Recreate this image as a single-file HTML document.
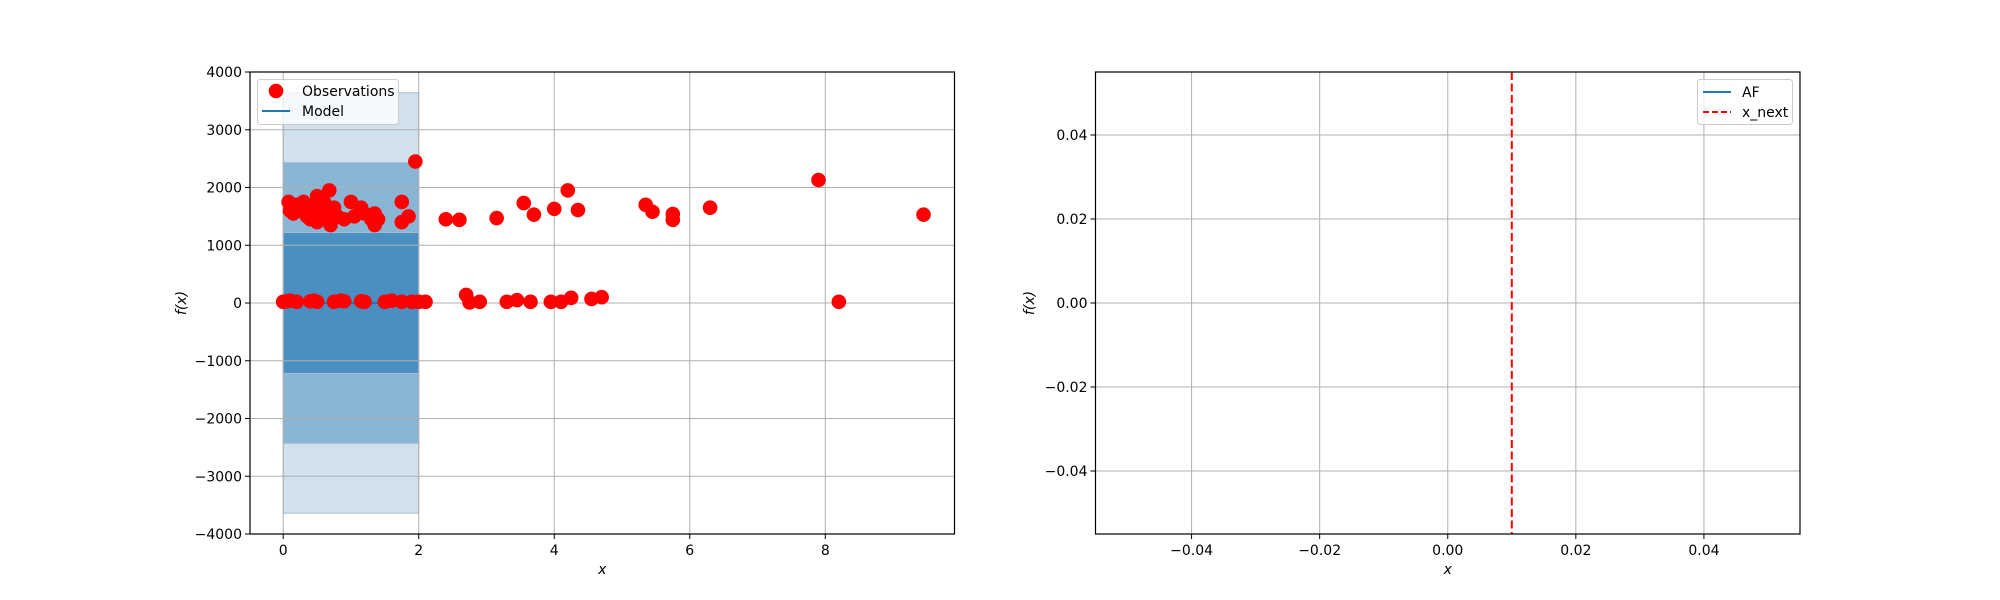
<!DOCTYPE html>
<html><head><meta charset="utf-8"><style>
html,body{margin:0;padding:0;background:#fff;}
svg{display:block;font-family:"DejaVu Sans","Liberation Sans",sans-serif;}
</style></head><body>
<svg id="fig" width="2000" height="600" xmlns="http://www.w3.org/2000/svg"></svg>
<script>
const obsX = [0.08,0.1,0.15,0.2,0.25,0.3,0.35,0.4,0.45,0.5,0.5,0.55,0.6,0.65,0.68,0.7,0.75,0.8,0.9,1.0,1.05,1.15,1.2,1.3,1.35,1.35,1.4,1.75,1.75,1.85,1.95,2.4,2.6,3.15,3.55,3.7,4.0,4.2,4.35,5.35,5.45,5.75,5.75,6.3,7.9,9.45,
  0.0,0.05,0.1,0.2,0.4,0.45,0.5,0.75,0.85,0.9,1.15,1.2,1.5,1.6,1.75,1.9,2.0,2.1,2.7,2.75,2.9,3.3,3.45,3.65,3.95,4.1,4.25,4.55,4.7,8.2];
const obsY = [1750,1600,1550,1700,1650,1750,1500,1450,1700,1850,1400,1600,1750,1500,1950,1350,1650,1500,1450,1750,1500,1650,1550,1450,1550,1350,1450,1750,1400,1500,2450,1450,1440,1470,1730,1530,1630,1950,1610,1700,1580,1540,1440,1650,2130,1530,
  20,30,40,20,30,40,20,20,40,30,30,20,20,40,20,20,20,20,140,10,20,20,50,20,20,20,90,70,100,20];
const bandX = [0, 2];
const bandHalf = [3640, 2430, 1220];
const bandColors = ['#d0e1ed','#8ab6d6','#4a8fc1'];
const modelMean = [0, 0];
const leftXTicks = [0,2,4,6,8];
const leftYTicks = [-4000,-3000,-2000,-1000,0,1000,2000,3000,4000];
const rightXTicks = [-0.04,-0.02,0.00,0.02,0.04];
const rightYTicks = [-0.04,-0.02,0.00,0.02,0.04];
const xNext = [0.01];

const NS='http://www.w3.org/2000/svg';
const svg=document.getElementById('fig');
function mk(tag,attrs,parent){const e=document.createElementNS(NS,tag);for(const k in attrs)e.setAttribute(k,attrs[k]);(parent||svg).appendChild(e);return e;}

const T=72,B=534;
const L1=250,R1=954.5,L2=1095.5,R2=1800;
const lx=v=>283.2+v*67.76;
const ly=v=>B-(v+4000)/8000*(B-T);
const rx=v=>L2+(v+0.055)/0.11*(R2-L2);
const ry=v=>B-(v+0.055)/0.11*(B-T);

const g1=mk('g',{});


bandHalf.forEach((h,i)=>{
  const r=mk('rect',{x:lx(bandX[0]),y:ly(h),width:lx(bandX[1])-lx(bandX[0]),height:ly(-h)-ly(h),fill:bandColors[i],stroke:'#a0bcd6','stroke-width':1},g1);
  
  
});
leftXTicks.forEach(t=>{
  const l=mk('line',{x1:lx(t),x2:lx(t),y1:T,y2:B,stroke:'#b0b0b0','stroke-width':1},g1);
  
  
  mk('line',{x1:lx(t),x2:lx(t),y1:B,y2:B+5,stroke:'#000'},g1);
  const tx=mk('text',{x:lx(t),y:B+21,'font-size':14,'text-anchor':'middle'},g1);tx.textContent=t;
  
  
});
leftYTicks.forEach(t=>{
  const l=mk('line',{x1:L1,x2:R1,y1:ly(t),y2:ly(t),stroke:'#b0b0b0','stroke-width':1},g1);
  
  
  mk('line',{x1:L1-5,x2:L1,y1:ly(t),y2:ly(t),stroke:'#000'},g1);
  const tx=mk('text',{x:L1-8,y:ly(t)+5,'font-size':14,'text-anchor':'end'},g1);tx.textContent=(t<0?'\u2212'+(-t):t);
  
  
});
const ml=mk('line',{x1:lx(bandX[0]),x2:lx(bandX[1]),y1:ly(modelMean[0]),y2:ly(modelMean[1]),stroke:'#1f77b4','stroke-width':2},g1);


obsX.forEach((x,i)=>{
  const c=mk('circle',{cx:lx(x),cy:ly(obsY[i]),r:7.3,fill:'#ff0000'},g1);
  
  
});
const f1=mk('rect',{x:L1,y:T,width:R1-L1,height:B-T,fill:'none',stroke:'#000','stroke-width':1.2},g1);


const lg=mk('g',{},g1);


mk('rect',{x:257.5,y:79.5,width:141,height:45,rx:3,fill:'#fff','fill-opacity':0.8,stroke:'#cccccc'},lg);
mk('circle',{cx:276,cy:91,r:7.3,fill:'#ff0000'},lg);
mk('line',{x1:262,x2:290,y1:111,y2:111,stroke:'#1f77b4','stroke-width':2},lg);
let t1=mk('text',{x:302,y:96,'font-size':14},lg);t1.textContent='Observations';
let t2=mk('text',{x:302,y:116,'font-size':14},lg);t2.textContent='Model';
let yl=mk('text',{x:0,y:0,'font-size':14,'font-style':'italic','text-anchor':'middle',transform:`translate(186,${(T+B)/2}) rotate(-90)`},g1);yl.textContent='f(x)';


let xl=mk('text',{x:(L1+R1)/2,y:574,'font-size':14,'font-style':'italic','text-anchor':'middle'},g1);xl.textContent='x';



const g2=mk('g',{});


rightXTicks.forEach(t=>{
  const l=mk('line',{x1:rx(t),x2:rx(t),y1:T,y2:B,stroke:'#b0b0b0','stroke-width':1},g2);
  
  
  mk('line',{x1:rx(t),x2:rx(t),y1:B,y2:B+5,stroke:'#000'},g2);
  const tx=mk('text',{x:rx(t),y:B+21,'font-size':14,'text-anchor':'middle'},g2);tx.textContent=(t<0?'\u2212':'')+Math.abs(t).toFixed(2);
  
  
});
rightYTicks.forEach(t=>{
  const l=mk('line',{x1:L2,x2:R2,y1:ry(t),y2:ry(t),stroke:'#b0b0b0','stroke-width':1},g2);
  
  
  mk('line',{x1:L2-5,x2:L2,y1:ry(t),y2:ry(t),stroke:'#000'},g2);
  const tx=mk('text',{x:L2-8,y:ry(t)+5,'font-size':14,'text-anchor':'end'},g2);tx.textContent=(t<0?'\u2212':'')+Math.abs(t).toFixed(2);
  
  
});
xNext.forEach(v=>{
  const l=mk('line',{x1:rx(v),x2:rx(v),y1:T,y2:B,stroke:'#ff0000','stroke-width':2,'stroke-dasharray':'8,3.5'},g2);
  
  
});
const f2=mk('rect',{x:L2,y:T,width:R2-L2,height:B-T,fill:'none',stroke:'#000','stroke-width':1.2},g2);


const lg2=mk('g',{},g2);


mk('rect',{x:1697.5,y:79.5,width:95,height:45,rx:3,fill:'#fff','fill-opacity':0.8,stroke:'#cccccc'},lg2);
mk('line',{x1:1703,x2:1731,y1:92,y2:92,stroke:'#1f77b4','stroke-width':2},lg2);
mk('line',{x1:1703,x2:1731,y1:112,y2:112,stroke:'#ff0000','stroke-width':2,'stroke-dasharray':'6,3'},lg2);
let t3=mk('text',{x:1742,y:97,'font-size':14},lg2);t3.textContent='AF';
let t4=mk('text',{x:1742,y:117,'font-size':14},lg2);t4.textContent='x_next';
let yl2=mk('text',{x:0,y:0,'font-size':14,'font-style':'italic','text-anchor':'middle',transform:`translate(1034,${(T+B)/2}) rotate(-90)`},g2);yl2.textContent='f(x)';


let xl2=mk('text',{x:(L2+R2)/2,y:574,'font-size':14,'font-style':'italic','text-anchor':'middle'},g2);xl2.textContent='x';


</script>
</body></html>
